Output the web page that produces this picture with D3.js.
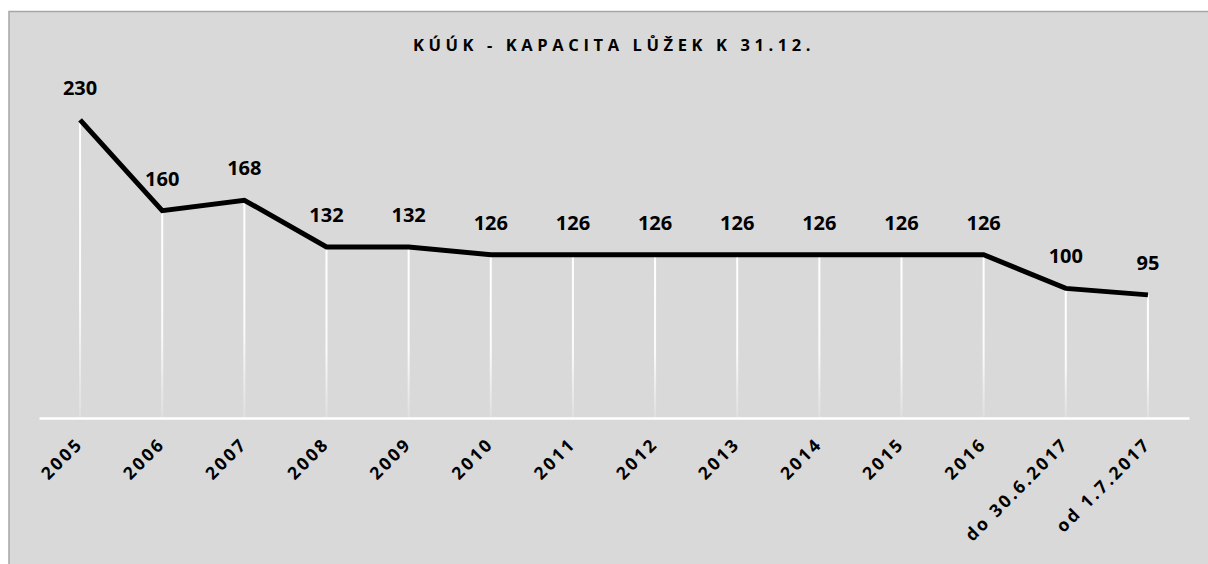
<!DOCTYPE html>
<html><head><meta charset="utf-8">
<script src="https://cdn.jsdelivr.net/npm/d3@7"></script>
<style>html,body{margin:0;padding:0;background:#fff;}svg{display:block;}</style>
</head><body>
<svg id="c" width="1208" height="564"></svg>
<script>
const categories = ["2005","2006","2007","2008","2009","2010","2011","2012","2013","2014","2015","2016","do 30.6.2017","od 1.7.2017"];
const values = [230,160,168,132,132,126,126,126,126,126,126,126,100,95];
const title = "KÚÚK - KAPACITA LŮŽEK K 31.12.";

const svg = d3.select("#c");
const W = 1208, H = 564;
const font = "'Open Sans', Lato, sans-serif";

// chart background with border
svg.append("rect").attr("x", 9).attr("y", 11.5).attr("width", W).attr("height", H)
  .attr("fill", "#d9d9d9").attr("stroke", "#a6a6a6").attr("stroke-width", 1.5);

const x = d3.scaleBand().domain(categories).range([39, 1189]);
const y = d3.scaleLinear().domain([0, 250]).range([418, 94]);

const defs = svg.append("defs");
const grad = defs.append("linearGradient").attr("id", "drop").attr("x1", 0).attr("y1", 0).attr("x2", 0).attr("y2", 1);
grad.append("stop").attr("offset", "0%").attr("stop-color", "#fff").attr("stop-opacity", 1);
grad.append("stop").attr("offset", "60%").attr("stop-color", "#fff").attr("stop-opacity", 0.9);
grad.append("stop").attr("offset", "100%").attr("stop-color", "#fff").attr("stop-opacity", 0.15);

const cx = d => x(d) + x.bandwidth() / 2;

// drop lines
svg.append("g").selectAll("rect").data(categories).join("rect")
  .attr("x", d => cx(d) - 1)
  .attr("y", (d, i) => y(values[i]))
  .attr("width", 2)
  .attr("height", (d, i) => y(0) - y(values[i]))
  .attr("fill", "url(#drop)");

// x axis
const xAxis = svg.append("g").attr("transform", `translate(0,${y(0)})`)
  .call(d3.axisBottom(x).tickSize(0).tickPadding(0));
xAxis.select(".domain").attr("stroke", "#fff").attr("stroke-width", 2.5);
xAxis.selectAll("text")
  .attr("font-family", font).attr("font-size", 17.5).attr("font-weight", "bold")
  .attr("fill", "#000").attr("letter-spacing", "2.6px")
  .attr("text-anchor", "end").attr("dy", null).attr("y", 0)
  .attr("transform", "translate(4,27) rotate(-45)");

// line
const line = d3.line().x((d, i) => cx(categories[i])).y(d => y(d));
svg.append("path").datum(values).attr("d", line)
  .attr("fill", "none").attr("stroke", "#000").attr("stroke-width", 5)
  .attr("stroke-linejoin", "miter");

// labels
svg.append("g").selectAll("text").data(values).join("text")
  .attr("x", (d, i) => cx(categories[i]))
  .attr("y", d => y(d) - 25)
  .attr("text-anchor", "middle")
  .attr("font-family", font).attr("font-size", 20).attr("font-weight", "bold")
  .attr("fill", "#000")
  .text(d => d);

// title
svg.append("text").attr("x", 614).attr("y", 51).attr("text-anchor", "middle")
  .attr("font-family", font).attr("font-size", 16.5).attr("font-weight", "bold")
  .attr("letter-spacing", "4.6px").attr("fill", "#000").text(title);
</script>
</body></html>
